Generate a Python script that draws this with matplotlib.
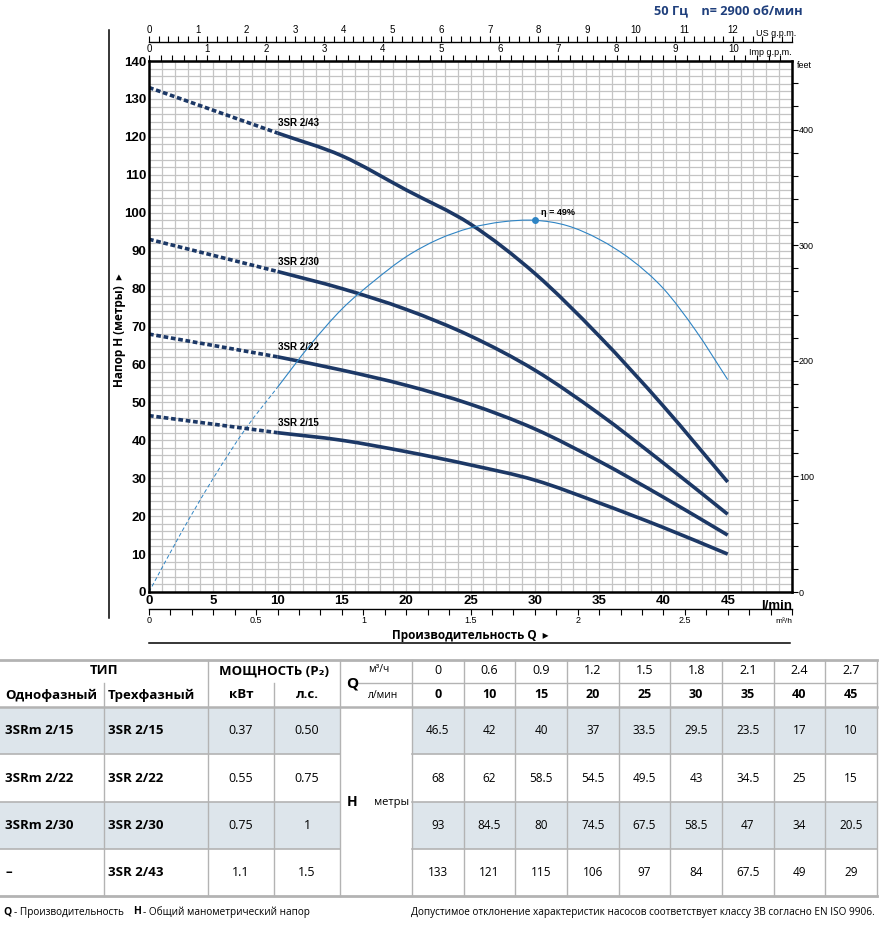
import numpy as np
import matplotlib as mpl
import matplotlib.pyplot as plt
from matplotlib.lines import Line2D
from matplotlib.patches import Rectangle, PathPatch
from matplotlib.path import Path

# Pump curves (Q in l/min, H in metres)
Q_LPM = [0, 10, 15, 20, 25, 30, 35, 40, 45]
Q_M3H = ["0", "0.6", "0.9", "1.2", "1.5", "1.8", "2.1", "2.4", "2.7"]
H_2_15 = [46.5, 42, 40, 37, 33.5, 29.5, 23.5, 17, 10]
H_2_22 = [68, 62, 58.5, 54.5, 49.5, 43, 34.5, 25, 15]
H_2_30 = [93, 84.5, 80, 74.5, 67.5, 58.5, 47, 34, 20.5]
H_2_43 = [133, 121, 115, 106, 97, 84, 67.5, 49, 29]
MODELS_1PH = ["3SRm 2/15", "3SRm 2/22", "3SRm 2/30", "–"]
MODELS_3PH = ["3SR 2/15", "3SR 2/22", "3SR 2/30", "3SR 2/43"]
POWER_KW = ["0.37", "0.55", "0.75", "1.1"]
POWER_HP = ["0.50", "0.75", "1", "1.5"]

# Efficiency curve (l/min, %); drawn on the head scale at 2 m per %
ETA_Q = [0, 2.5, 5, 7.5, 10, 12.5, 15, 17.5, 20, 22.5, 25, 27.5, 30, 32.5, 35, 37.5, 40, 42.5, 45]
ETA_PCT = [0, 7.8, 15, 21.5, 27, 32.5, 37.3, 41, 44.2, 46.5, 48, 48.8, 49, 48.3, 46.5, 43.8, 40, 34.5, 28]
ETA_SCALE = 2.0
ETA_BEST = 30

NAVY = "#1c3866"
ETA_COL = "#2e84c4"
GRID = "#c4c4c4"
TBL_LINE = "#b3b3b3"
SHADE = "#dde5eb"

W, H = 880, 926
CHART_FONT = ["Liberation Sans Narrow", "Liberation Sans", "DejaVu Sans"]
TABLE_FONT = ["Open Sans", "DejaVu Sans"]

plt.rcParams["font.family"] = CHART_FONT


def fy(py):
    return 1 - py / H


def smooth_path(xs, ys, i0, i1):
    """Bezier path through the points xs[i0..i1] (Catmull-Rom tangents)."""
    p = np.column_stack([xs, ys]).astype(float)
    t = np.zeros_like(p)
    t[1:-1] = (p[2:] - p[:-2]) / 2
    t[0] = p[1] - p[0]
    t[-1] = p[-1] - p[-2]
    verts, codes = [p[i0]], [Path.MOVETO]
    for i in range(i0, i1):
        verts += [p[i] + t[i] / 3, p[i + 1] - t[i + 1] / 3, p[i + 1]]
        codes += [Path.CURVE4] * 3
    return Path(verts, codes)


fig = plt.figure(figsize=(W / 100, H / 100), dpi=100)

# overlay in pixel coords for the table, frame lines and free text
tax = fig.add_axes([0, 0, 1, 1], zorder=-1)
tax.set_xlim(0, W)
tax.set_ylim(H, 0)
tax.axis("off")

ax = fig.add_axes([149 / W, fy(592), 643 / W, 531 / H])
ax.set_xlim(0, 50)
ax.set_ylim(0, 140)
ax.set_xticks(range(0, 46, 5))
ax.set_xticks(range(0, 51, 1), minor=True)
ax.set_yticks(range(0, 141, 10))
ax.set_yticks(range(0, 141, 2), minor=True)
ax.grid(which="both", color=GRID, lw=0.9)
ax.set_axisbelow(True)
ax.tick_params(which="both", length=0, labelsize=9.5, pad=2)
for lab in ax.get_xticklabels() + ax.get_yticklabels():
    lab.set_fontweight("bold")
for sp in ax.spines.values():
    sp.set_linewidth(1.8)
ax.text(50, -2.2, "l/min", ha="right", va="top", fontsize=9.5, fontweight="bold")

# head curves: straight dashed below 10 l/min, smooth solid afterwards
for name, h in [("3SR 2/43", H_2_43), ("3SR 2/30", H_2_30),
                ("3SR 2/22", H_2_22), ("3SR 2/15", H_2_15)]:
    ax.plot(Q_LPM[:2], h[:2], color=NAVY, lw=2.6, ls=(0, (1.3, 0.75)),
            solid_capstyle="butt", dash_capstyle="butt")
    ax.add_patch(PathPatch(smooth_path(Q_LPM[1:], h[1:], 0, len(h) - 2),
                           fill=False, edgecolor=NAVY, lw=2.6, capstyle="butt"))
    ax.text(Q_LPM[1], h[1] + 2.6, name, fontsize=7, fontweight="bold",
            va="center", ha="left")

# efficiency curve
eta_h = [v * ETA_SCALE for v in ETA_PCT]
split = ETA_Q.index(10)
ax.add_patch(PathPatch(smooth_path(ETA_Q, eta_h, 0, split), fill=False,
                       edgecolor=ETA_COL, lw=0.7, ls=(0, (4, 2.5))))
ax.add_patch(PathPatch(smooth_path(ETA_Q, eta_h, split, len(ETA_Q) - 1), fill=False,
                       edgecolor=ETA_COL, lw=0.8))
best = ETA_Q.index(ETA_BEST)
ax.plot(ETA_BEST, eta_h[best], "o", ms=4, color=ETA_COL)
ax.text(ETA_BEST + 0.5, eta_h[best] + 2, "η = %d%%" % ETA_PCT[best],
        fontsize=6.5, fontweight="bold", va="center", ha="left")

# secondary flow scales
imp = ax.secondary_xaxis("top", functions=(lambda q: q / 4.546, lambda g: g * 4.546))
imp.set_xticks(range(0, 11))
imp.set_xticks(np.arange(0, 11.01, 0.2), minor=True)
imp.tick_params(which="both", direction="out", length=4, width=0.8, labelsize=7, pad=1)
ax.text(50, 1.0 + 4 / 531, "Imp g.p.m.", transform=ax.get_xaxis_transform(),
        ha="right", va="bottom", fontsize=6.5)

us = ax.secondary_xaxis(1 + 19 / 531, functions=(lambda q: q / 3.785, lambda g: g * 3.785))
us.set_xticks(range(0, 13))
us.set_xticks(np.arange(0, 13.21, 0.2), minor=True)
us.tick_params(which="both", direction="out", length=4, width=0.8, labelsize=7, pad=1)
for sp in us.spines.values():
    sp.set_linewidth(1.0)
ax.text(50.3, 1 + 23 / 531, "US g.p.m.", transform=ax.get_xaxis_transform(),
        ha="right", va="bottom", fontsize=6.5)

m3h = ax.secondary_xaxis(-17 / 531, functions=(lambda q: q * 0.06, lambda m: m / 0.06))
m3h.set_xticks([0, 0.5, 1, 1.5, 2, 2.5])
m3h.set_xticklabels(["0", "0.5", "1", "1.5", "2", "2.5"])
m3h.set_xticks(np.arange(0, 3.01, 0.1), minor=True)
m3h.tick_params(which="both", direction="out", length=4, width=0.8, labelsize=6.5, pad=1)
for sp in m3h.spines.values():
    sp.set_linewidth(1.0)
ax.text(50, -26 / 531, "m³/h", transform=ax.get_xaxis_transform(),
        ha="right", va="top", fontsize=6)

feet = ax.secondary_yaxis("right", functions=(lambda m: m * 3.2808, lambda f: f / 3.2808))
feet.set_yticks(range(0, 401, 100))
feet.set_yticks(range(0, 460, 20), minor=True)
feet.tick_params(which="both", direction="out", length=4, width=0.8, labelsize=6.5, pad=1)
tax.text(797, 66, "feet", fontsize=6.5, ha="left", va="center")

# frame lines and axis titles
tax.add_line(Line2D([109, 109], [30, 618], color="black", lw=1.1))
tax.add_line(Line2D([149, 790], [643, 643], color="black", lw=1.1))
tax.text(470, 636, "Производительность Q  ▸", fontsize=8.5, fontweight="bold",
         ha="center", va="center", family=TABLE_FONT)
tax.text(120, 330, "Напор H (метры)  ▸", fontsize=8.5, fontweight="bold",
         ha="center", va="center", rotation=90, family=TABLE_FONT)
tax.text(803, 12, "50 Гц    n= 2900 об/мин", fontsize=9.2, fontweight="bold",
         color="#1f3f7c", ha="right", va="center", family=TABLE_FONT)

# ---- table ----
X_RIGHT = 877
dw = (X_RIGHT - 412) / len(Q_LPM)
D_EDGES = [412 + i * dw for i in range(len(Q_LPM) + 1)]
D_MID = [412 + (i + 0.5) * dw for i in range(len(Q_LPM))]
Y_TOP, Y_MID, Y_HEAD = 660, 683, 707
R_EDGES = [707, 754, 802, 849, 896]

for i in (0, 2):
    y0, y1 = R_EDGES[i], R_EDGES[i + 1]
    tax.add_patch(Rectangle((0, y0), 340, y1 - y0, color=SHADE, lw=0))
    tax.add_patch(Rectangle((412, y0), X_RIGHT - 412, y1 - y0, color=SHADE, lw=0))


def hline(y, x0, x1, lw=1.0):
    tax.add_line(Line2D([x0, x1], [y, y], color=TBL_LINE, lw=lw))


def vline(x, y0, y1, lw=1.0):
    tax.add_line(Line2D([x, x], [y0, y1], color=TBL_LINE, lw=lw))


hline(Y_TOP, 0, X_RIGHT, 2.0)
hline(Y_HEAD, 0, X_RIGHT, 1.8)
hline(R_EDGES[-1], 0, X_RIGHT, 2.0)
hline(Y_MID, 355, X_RIGHT)
for y in R_EDGES[1:-1]:
    hline(y, 0, 340, 1.2)
    hline(y, 412, X_RIGHT, 1.2)
for x in (104, 274):
    vline(x, Y_MID, R_EDGES[-1])
for x in [208, 340] + D_EDGES:
    vline(x, Y_TOP, R_EDGES[-1])

tk = dict(family=TABLE_FONT, va="center")
tax.text(104, 671, "ТИП", fontsize=9.5, fontweight="bold", ha="center", **tk)
tax.text(5, 695, "Однофазный", fontsize=9.5, fontweight="bold", ha="left", **tk)
tax.text(108, 695, "Трехфазный", fontsize=9.5, fontweight="bold", ha="left", **tk)
tax.text(274, 671, "МОЩНОСТЬ (P₂)", fontsize=9.5, fontweight="bold", ha="center", **tk)
tax.text(241, 695, "кВт", fontsize=9.5, fontweight="bold", ha="center", **tk)
tax.text(307, 695, "л.с.", fontsize=9.5, fontweight="bold", ha="center", **tk)
tax.text(352, 683, "Q", fontsize=11, fontweight="bold", ha="center", **tk)
tax.text(368, 670, "м³/ч", fontsize=7.5, ha="left", **tk)
tax.text(368, 695, "л/мин", fontsize=7.5, ha="left", **tk)
for xm, m3, lpm in zip(D_MID, Q_M3H, Q_LPM):
    tax.text(xm, 671, m3, fontsize=9, ha="center", **tk)
    tax.text(xm, 695, str(lpm), fontsize=9, fontweight="bold", ha="center", **tk)

tax.text(352, 802, "H", fontsize=10, fontweight="bold", ha="center", **tk)
tax.text(392, 802, "метры", fontsize=8, ha="center", **tk)

curves = [H_2_15, H_2_22, H_2_30, H_2_43]
for i in range(4):
    ym = (R_EDGES[i] + R_EDGES[i + 1]) / 2
    tax.text(5, ym, MODELS_1PH[i], fontsize=9.5, fontweight="bold", ha="left", **tk)
    tax.text(108, ym, MODELS_3PH[i], fontsize=9.5, fontweight="bold", ha="left", **tk)
    tax.text(241, ym, POWER_KW[i], fontsize=9, ha="center", **tk)
    tax.text(307, ym, POWER_HP[i], fontsize=9, ha="center", **tk)
    for xm, v in zip(D_MID, curves[i]):
        tax.text(xm, ym, "%g" % v, fontsize=8.5, ha="center", **tk)

# footer
tax.text(3, 912, "Q", fontsize=7.5, fontweight="bold", ha="left", **tk)
tax.text(14, 912, "- Производительность", fontsize=7.2, ha="left", **tk)
tax.text(133, 912, "H", fontsize=7.5, fontweight="bold", ha="left", **tk)
tax.text(143, 912, "- Общий манометрический напор", fontsize=7.2, ha="left", **tk)
tax.text(875, 912, "Допустимое отклонение характеристик насосов соответствует классу 3В согласно EN ISO 9906.",
         fontsize=7.2, ha="right", **tk)

fig.savefig("out.png", dpi=100)
